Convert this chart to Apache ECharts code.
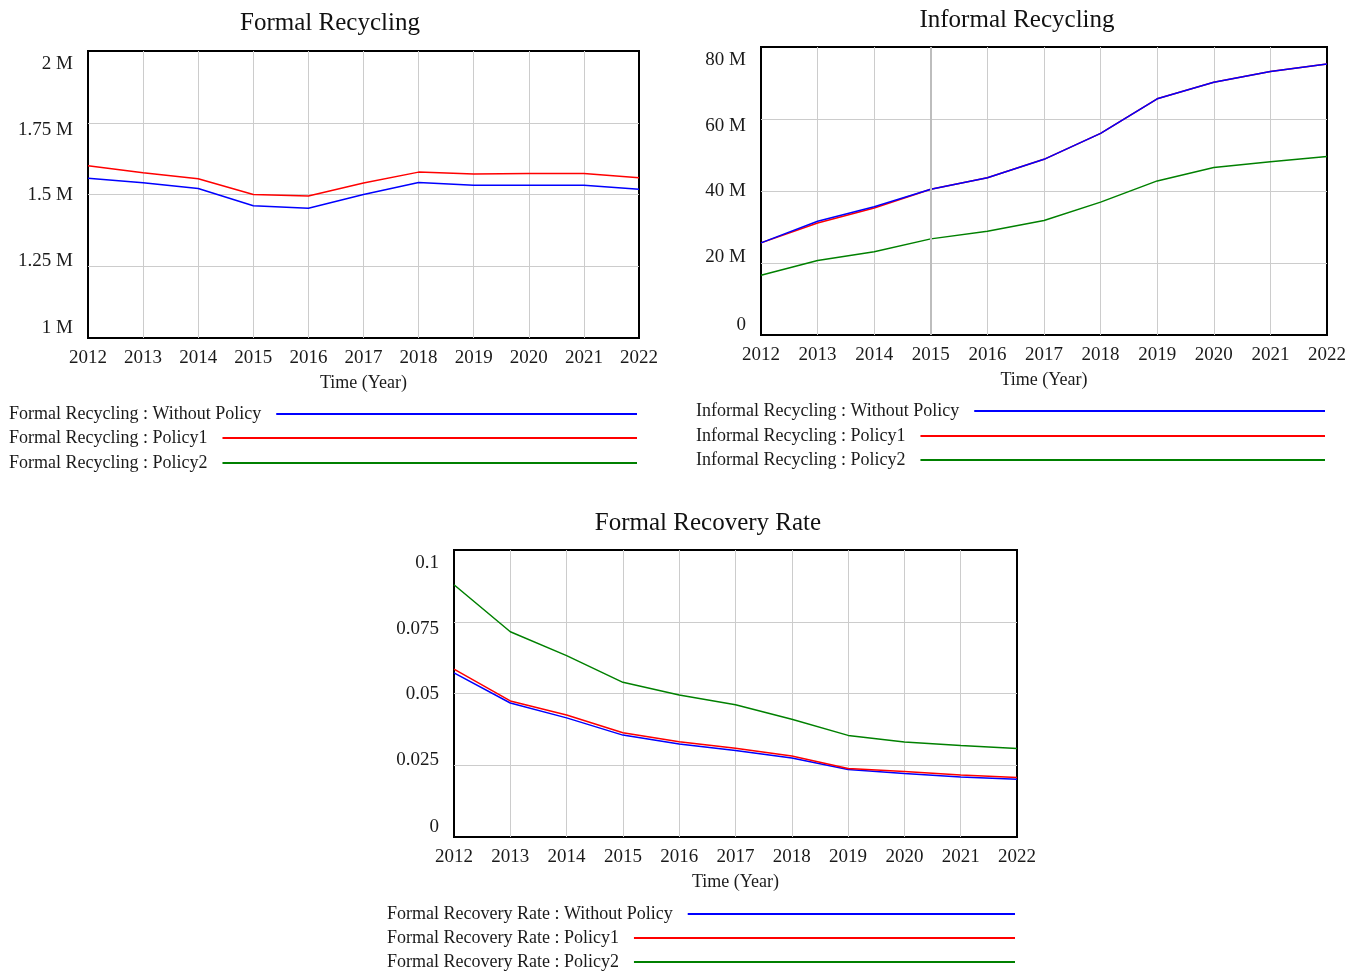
<!DOCTYPE html>
<html>
<head>
<meta charset="utf-8">
<title>Recycling scenarios</title>
<script src="https://cdn.jsdelivr.net/npm/echarts@6.0.0/dist/echarts.min.js"></script>
<style>
  html, body { margin: 0; padding: 0; background: #fff; }
  #main { width: 1357px; height: 974px; }
</style>
</head>
<body>
<div id="main"></div>
<script>
var years = ['2012', '2013', '2014', '2015', '2016', '2017', '2018', '2019', '2020', '2021', '2022'];

// Formal Recycling
var formalRecyclingBase = [1557000, 1541000, 1521000, 1461000, 1452000, 1500000, 1542000, 1532000, 1532000, 1532000, 1518000];
var formalRecyclingP1 = [1600000, 1576000, 1555000, 1500000, 1495000, 1540000, 1578000, 1571000, 1573000, 1573000, 1558000];
// Policy2 line is not drawn inside this plot in the reference
var formalRecyclingP2 = [null, null, null, null, null, null, null, null, null, null, null];
var formalTicks = ['1 M', '1.25 M', '1.5 M', '1.75 M', '2 M'];

// Informal Recycling
var informalRecyclingBase = [25600000, 31600000, 35600000, 40500000, 43700000, 48800000, 56000000, 65600000, 70200000, 73200000, 75300000];
var informalRecyclingP1 = [25600000, 31100000, 35300000, 40500000, 43700000, 48800000, 56000000, 65600000, 70200000, 73200000, 75300000];
var informalRecyclingP2 = [16600000, 20700000, 23100000, 26700000, 28800000, 31800000, 36900000, 42800000, 46500000, 48100000, 49600000];
var informalTicks = ['0', '20 M', '40 M', '60 M', '80 M'];

// Formal Recovery Rate
var recoveryRateBase = [0.0572, 0.0467, 0.0415, 0.0355, 0.0324, 0.0301, 0.0275, 0.0235, 0.0221, 0.0209, 0.0201];
var recoveryRateP1 = [0.0585, 0.0474, 0.0425, 0.0363, 0.0332, 0.0309, 0.0282, 0.0239, 0.0228, 0.0216, 0.0207];
var recoveryRateP2 = [0.0879, 0.0715, 0.0632, 0.0539, 0.0495, 0.0461, 0.0410, 0.0354, 0.0331, 0.0319, 0.0308];
var recoveryTicks = ['0', '0.025', '0.05', '0.075', '0.1'];

var FONT = '"Liberation Serif", "Times New Roman", serif';
var TXT = '#1a1a1a';
var BLUE = '#0000ff', RED = '#ff0000', GREEN = '#008000';

var chart = echarts.init(document.getElementById('main'));

var ctx = document.createElement('canvas').getContext('2d');
function textWidth(s, size) {
  ctx.font = size + 'px ' + FONT;
  return ctx.measureText(s).width;
}

// tick labels drift inward towards the plot centre, like the original tool does
var rich = {};
var shifts = [[0, 0, 19, 0], [0, 0, 11, 0], [1, 0, 0, 0], [15, 0, 0, 0], [27, 0, 0, 0]];
shifts.forEach(function (p, i) {
  rich['o' + i] = { fontFamily: FONT, fontSize: 19, color: TXT, padding: p };
});

function grid(left, top, width, height) {
  return { left: left, top: top, width: width, height: height, show: true,
    borderColor: '#000', borderWidth: 2, containLabel: false };
}

function xAxis(gi) {
  return {
    type: 'category', gridIndex: gi, data: years, boundaryGap: false,
    axisLine: { show: false }, axisTick: { show: false },
    axisLabel: { interval: 0, margin: 11, fontFamily: FONT, fontSize: 19, color: TXT },
    splitLine: { show: true, interval: 0, showMinLine: false, showMaxLine: false,
      lineStyle: { color: '#cccccc', width: 1 } },
    name: 'Time (Year)', nameLocation: 'middle', nameGap: 36,
    nameTextStyle: { fontFamily: FONT, fontSize: 18, color: TXT }
  };
}

function yAxis(gi, min, max, step, ticks) {
  return {
    type: 'value', gridIndex: gi, min: min, max: max, interval: step,
    axisLine: { show: false }, axisTick: { show: false },
    axisLabel: {
      margin: 15, fontFamily: FONT, fontSize: 19, color: TXT, rich: rich,
      formatter: function (v, i) { return '{o' + i + '|' + ticks[i] + '}'; }
    },
    splitLine: { show: true, showMinLine: false, showMaxLine: false,
      lineStyle: { color: '#cccccc', width: 1 } }
  };
}

function line(name, data, color, gi, z) {
  return {
    name: name, type: 'line', xAxisIndex: gi, yAxisIndex: gi, data: data,
    symbol: 'none', showSymbol: false, z: z || 2,
    lineStyle: { color: color, width: 1.5 }, itemStyle: { color: color },
    animation: false
  };
}

function legend(name, left, cy, lineEnd) {
  var w = textWidth(name, 18);
  return {
    data: [name], left: left, top: cy - 8, padding: 0, align: 'right',
    icon: 'rect', itemHeight: 2, itemWidth: lineEnd - left - w - 15,
    selectedMode: false,
    textStyle: { fontFamily: FONT, fontSize: 18, color: TXT, lineHeight: 20, padding: [0, 10, 0, 0] }
  };
}

function title(text, cx, cy) {
  return { text: text, left: cx, top: cy, textAlign: 'center', textVerticalAlign: 'middle', padding: 0,
    textStyle: { fontFamily: FONT, fontSize: 25, fontWeight: 'normal', color: '#111' } };
}

var n1 = ['Formal Recycling : Without Policy', 'Formal Recycling : Policy1', 'Formal Recycling : Policy2'];
var n2 = ['Informal Recycling : Without Policy', 'Informal Recycling : Policy1', 'Informal Recycling : Policy2'];
var n3 = ['Formal Recovery Rate : Without Policy', 'Formal Recovery Rate : Policy1', 'Formal Recovery Rate : Policy2'];

var informalP1Series = line(n2[1], informalRecyclingP1, RED, 1, 2);
informalP1Series.markLine = {
  silent: true, symbol: 'none', label: { show: false }, animation: false,
  lineStyle: { color: '#bdbdbd', width: 2, type: 'solid' },
  data: [{ xAxis: '2015' }]
};

var option = {
  backgroundColor: '#fff',
  animation: false,
  title: [
    title('Formal Recycling', 330, 23),
    title('Informal Recycling', 1017, 20),
    title('Formal Recovery Rate', 708, 523)
  ],
  grid: [
    grid(88, 51, 551, 287),
    grid(761, 47, 566, 288),
    grid(454, 550, 563, 287)
  ],
  xAxis: [xAxis(0), xAxis(1), xAxis(2)],
  yAxis: [
    yAxis(0, 1000000, 2000000, 250000, formalTicks),
    yAxis(1, 0, 80000000, 20000000, informalTicks),
    yAxis(2, 0, 0.1, 0.025, recoveryTicks)
  ],
  legend: [
    legend(n1[0], 9, 412, 637), legend(n1[1], 9, 436, 637), legend(n1[2], 9, 461, 637),
    legend(n2[0], 696, 409, 1325), legend(n2[1], 696, 434, 1325), legend(n2[2], 696, 458, 1325),
    legend(n3[0], 387, 912, 1015), legend(n3[1], 387, 936, 1015), legend(n3[2], 387, 960, 1015)
  ],
  series: [
    line(n1[0], formalRecyclingBase, BLUE, 0),
    line(n1[1], formalRecyclingP1, RED, 0),
    line(n1[2], formalRecyclingP2, GREEN, 0),
    line(n2[0], informalRecyclingBase, BLUE, 1, 3),
    informalP1Series,
    line(n2[2], informalRecyclingP2, GREEN, 1, 3),
    line(n3[0], recoveryRateBase, BLUE, 2),
    line(n3[1], recoveryRateP1, RED, 2),
    line(n3[2], recoveryRateP2, GREEN, 2)
  ]
};

chart.setOption(option);
window.addEventListener('resize', function () { chart.resize(); });
</script>
</body>
</html>
